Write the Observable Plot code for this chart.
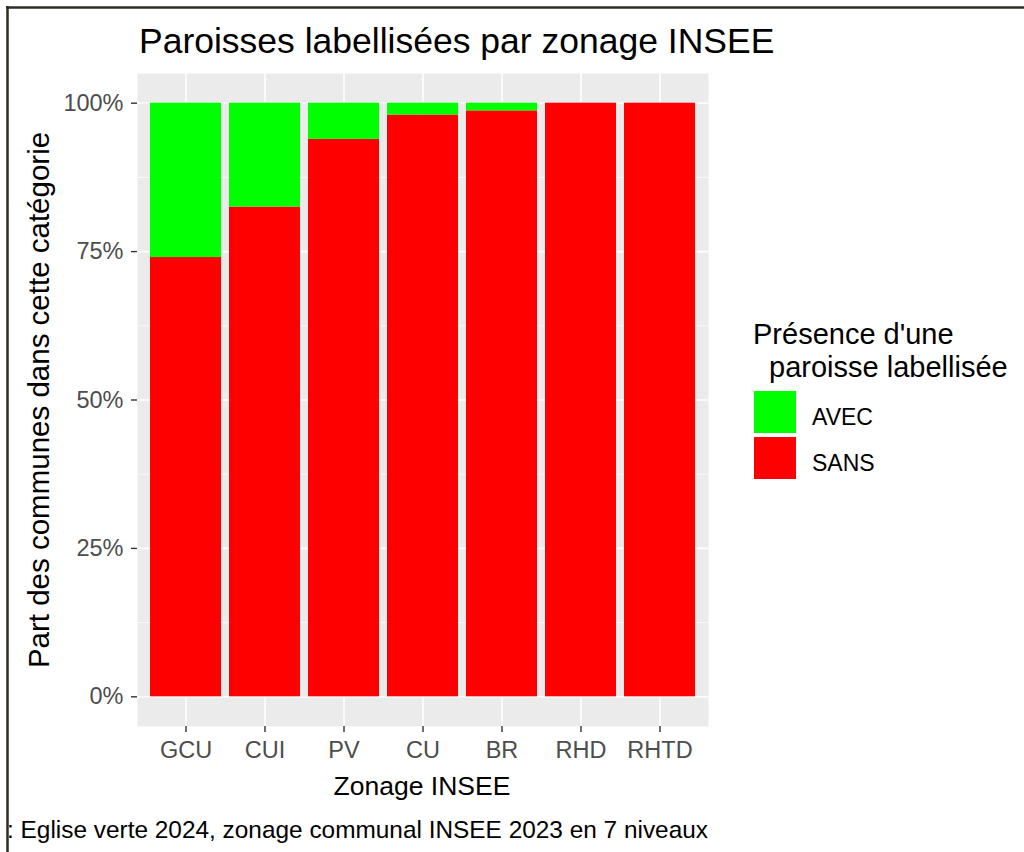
<!DOCTYPE html>
<html>
<head>
<meta charset="utf-8">
<script src="https://cdn.jsdelivr.net/npm/d3@7"></script>
<script src="https://cdn.jsdelivr.net/npm/@observablehq/plot@0.6"></script>
<style>
  html, body { margin: 0; padding: 0; background: #ffffff; }
  #wrap { position: relative; width: 1024px; height: 852px; overflow: hidden; background: #fff; font-family: "Liberation Sans", Arial, sans-serif; }
  #chart { position: absolute; left: 0; top: 0; }
  #overlay { position: absolute; left: 0; top: 0; pointer-events: none; }
</style>
</head>
<body>
<div id="wrap">
  <div id="chart"></div>
  <svg id="overlay" width="1024" height="852"></svg>
</div>
<script>
// ---- data ----
const zones = ["GCU", "CUI", "PV", "CU", "BR", "RHD", "RHTD"];
const sansShare = [0.740, 0.825, 0.939, 0.980, 0.987, 1.000, 1.000];
const avecShare = [0.260, 0.175, 0.061, 0.020, 0.013, 0.000, 0.000];
const presenceLevels = ["AVEC", "SANS"];
const presenceColors = ["#00ff00", "#ff0000"];
const yTicks = [0, 0.25, 0.5, 0.75, 1];
const yMinor = [0.125, 0.375, 0.625, 0.875];

const titleText = "Paroisses labellisées par zonage INSEE";
const xTitle = "Zonage INSEE";
const yTitle = "Part des communes dans cette catégorie";
const legendTitle = ["Présence d'une", " paroisse labellisée"];
const captionText = ": Eglise verte 2024, zonage communal INSEE 2023 en 7 niveaux";

// ---- table ----
const rows = [];
zones.forEach((z, i) => {
  rows.push({zone: z, presence: "SANS", value: sansShare[i]});
  rows.push({zone: z, presence: "AVEC", value: avecShare[i]});
});

const font = '"Liberation Sans", Arial, sans-serif';

const chart = Plot.plot({
  width: 720,
  height: 760,
  marginLeft: 137,
  marginRight: 12,
  marginTop: 73,
  marginBottom: 34,
  style: {fontFamily: font, background: "transparent", overflow: "visible"},
  x: {type: "band", domain: zones, paddingInner: 0.1, paddingOuter: 0.15},
  y: {domain: [-0.05, 1.05]},
  color: {domain: presenceLevels, range: presenceColors},
  marks: [
    Plot.frame({fill: "#ebebeb", stroke: null}),
    Plot.ruleY(yMinor, {stroke: "#ffffff", strokeWidth: 0.8}),
    Plot.ruleY(yTicks, {stroke: "#ffffff", strokeWidth: 1.6}),
    Plot.ruleX(zones, {x: d => d, stroke: "#ffffff", strokeWidth: 1.6}),
    Plot.barY(rows, {x: "zone", y: "value", fill: "presence", order: ["SANS", "AVEC"], inset: 0}),
    Plot.axisY({ticks: yTicks, tickFormat: d => Math.round(d * 100) + "%", tickSize: 6, tickPadding: 8,
      fontSize: 23.5, fill: "#4d4d4d", stroke: "#333333", strokeWidth: 1.4, label: null}),
    Plot.axisX({tickSize: 6, tickPadding: 9, fontSize: 23.5, fill: "#4d4d4d", stroke: "#333333", strokeWidth: 1.4, label: null})
  ]
});
document.getElementById("chart").appendChild(chart);

// ---- overlay: title, axis titles, legend, caption, frame lines ----
const ov = d3.select("#overlay").style("font-family", font);

ov.append("text").attr("x", 139).attr("y", 53).attr("font-size", 35.5).attr("fill", "#000").text(titleText);

ov.append("text").attr("x", 422).attr("y", 795).attr("text-anchor", "middle").attr("font-size", 26.5).attr("fill", "#000").text(xTitle);

ov.append("text").attr("transform", "translate(49,400) rotate(-90)").attr("text-anchor", "middle")
  .attr("font-size", 29.5).attr("fill", "#000").text(yTitle);

ov.append("text").attr("x", 708).attr("y", 838).attr("text-anchor", "end").attr("font-size", 24.4).attr("fill", "#000").text(captionText);

// legend
const lg = ov.append("g");
lg.append("text").attr("x", 753).attr("y", 344).attr("font-size", 29).attr("fill", "#000").text(legendTitle[0]);
lg.append("text").attr("x", 761).attr("y", 377).attr("font-size", 29).attr("fill", "#000")
  .attr("xml:space", "preserve").style("white-space", "pre").text(legendTitle[1]);
presenceLevels.forEach((lvl, i) => {
  const y0 = 391 + i * 46;
  lg.append("rect").attr("x", 754).attr("y", y0).attr("width", 42).attr("height", 42)
    .attr("fill", presenceColors[i]);
  lg.append("text").attr("x", 812).attr("y", y0 + 34).attr("font-size", 23).attr("fill", "#000").text(lvl);
});

// frame lines (top and left)
ov.append("line").attr("x1", 6).attr("x2", 1024).attr("y1", 7.5).attr("y2", 7.5).attr("stroke", "#2e2c24").attr("stroke-width", 2.5);
ov.append("line").attr("x1", 7.5).attr("x2", 7.5).attr("y1", 6).attr("y2", 852).attr("stroke", "#2e2c24").attr("stroke-width", 2.5);
</script>
</body>
</html>
